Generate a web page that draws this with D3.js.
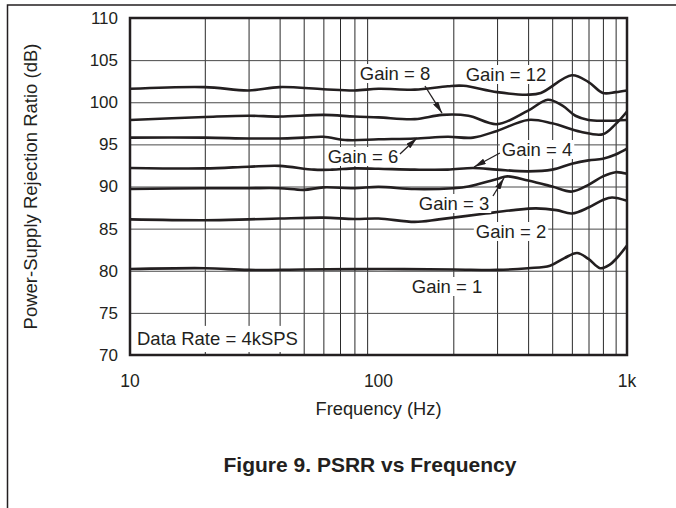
<!DOCTYPE html>
<html>
<head>
<meta charset="utf-8">
<script src="https://cdn.jsdelivr.net/npm/d3@7"></script>
<style>
  html, body { margin: 0; padding: 0; background: #fff; }
  svg text { font-family: "Liberation Sans", Arial, Helvetica, sans-serif; fill: #231f20; }
</style>
</head>
<body>
<svg id="chart" width="676" height="508"></svg>
<script>
// ---------- data ----------
const gain1  = [[10,80.2],[20,80.3],[30,80.1],[50,80.15],[100,80.2],[200,80.15],[300,80.1],[400,80.3],[490,80.6],[560,81.5],[630,82.1],[700,81.4],[780,80.3],[850,80.7],[910,81.5],[1000,83.0]];
const gain2  = [[10,86.1],[20,86.0],[30,86.1],[40,86.2],[60,86.3],[80,86.15],[100,86.2],[140,85.8],[175,86.1],[270,86.8],[350,87.2],[430,87.4],[520,87.2],[600,86.8],[700,87.5],[800,88.4],[870,88.7],[1000,88.3]];
const gain3  = [[10,89.7],[20,89.8],[30,89.8],[40,89.8],[50,89.6],[60,89.9],[80,89.8],[100,89.95],[140,89.7],[200,89.8],[230,90.0],[300,90.9],[330,91.2],[400,90.7],[500,90.0],[600,89.4],[700,90.2],[800,91.2],[900,91.7],[1000,91.5]];
const gain4  = [[10,92.2],[20,92.15],[30,92.35],[40,92.45],[55,92.0],[65,92.0],[80,92.15],[100,92.1],[140,92.0],[190,92.0],[240,92.2],[300,92.0],[400,91.8],[500,92.0],[600,92.7],[700,93.1],[800,93.3],[900,93.8],[1000,94.5]];
const gain6  = [[10,95.8],[20,95.8],[30,95.7],[40,95.7],[50,95.8],[60,95.9],[75,95.5],[100,95.6],[140,95.7],[190,95.9],[240,95.8],[300,96.6],[400,97.9],[500,97.5],[650,96.5],[800,96.2],[900,97.4],[1000,98.9]];
const gain8  = [[10,97.9],[20,98.25],[30,98.4],[40,98.3],[60,98.5],[80,98.3],[100,98.2],[140,98.0],[180,98.5],[230,98.4],[300,97.4],[400,99.0],[480,100.3],[550,99.6],[620,98.4],[700,97.9],[800,97.8],[1000,97.9]];
const gain12 = [[10,101.6],[20,101.8],[30,101.4],[40,101.8],[60,101.55],[80,101.4],[100,101.6],[140,101.5],[190,101.9],[220,101.95],[300,101.2],[400,100.9],[450,101.1],[600,103.2],[700,102.4],[800,101.1],[900,101.2],[1000,101.4]];
const seriesList = [gain1, gain2, gain3, gain4, gain6, gain8, gain12];

const yTicks = [70, 75, 80, 85, 90, 95, 100, 105, 110];
const xMajorTicks = [10, 100, 1000];
const xTickLabels = ["10", "100", "1k"];
const xMinorTicks = [20,30,40,50,60,70,80,90,200,300,400,500,600,700,800,900];

// annotations: text, anchor point (freq, dB), optional arrow from -> to (freq, dB)
const labels = [
  { text: "Gain = 8",  at: [116.5, 102.64], arrow: [[153.8, 101.93], [180.1, 98.72]] },
  { text: "Gain = 12", at: [326, 102.52] },
  { text: "Gain = 6",  at: [86.6, 92.79],  arrow: [[122, 93.86], [142.9, 95.76]] },
  { text: "Gain = 4",  at: [434.5, 93.62], arrow: [[308, 93.98], [242.3, 92.31]] },
  { text: "Gain = 3",  at: [201.3, 87.21], arrow: [[288.9, 88.87], [320, 91.01]] },
  { text: "Gain = 2",  at: [341.5, 83.89] },
  { text: "Gain = 1",  at: [188.7, 77.36] }
];

// ---------- layout ----------
const svg = d3.select("#chart");
const L = 130, R = 627, T = 18, B = 355;
const x = d3.scaleLog().domain([10, 1000]).range([L, R]);
const y = d3.scaleLinear().domain([70, 110]).range([B, T]);

// page frame
svg.append("path").attr("d", `M7.5,508 V5 H676`).attr("fill", "none")
  .attr("stroke", "#231f20").attr("stroke-width", 1.5);

// grid
const grid = svg.append("g");
grid.append("g").attr("transform", `translate(0,${B})`)
  .call(d3.axisBottom(x).tickValues(xMinorTicks).tickSize(-(B - T)).tickFormat(""))
  .call(g => g.select(".domain").remove())
  .call(g => g.selectAll("line").attr("stroke", "#2a2a2a").attr("stroke-width", 1));
grid.append("g").attr("transform", `translate(${L},0)`)
  .call(d3.axisLeft(y).tickValues(yTicks.slice(1, -1)).tickSize(-(R - L)).tickFormat(""))
  .call(g => g.select(".domain").remove())
  .call(g => g.selectAll("line").attr("stroke", "#4a4a4a").attr("stroke-width", 1));

// curves
const line = d3.line().x(d => x(d[0])).y(d => y(d[1])).curve(d3.curveCatmullRom.alpha(0.5));
svg.append("g").selectAll("path").data(seriesList).join("path")
  .attr("d", line).attr("fill", "none").attr("stroke", "#231f20")
  .attr("stroke-width", 2.6).attr("stroke-linejoin", "round");

// annotation labels with white background
const ann = svg.append("g");
labels.forEach(l => {
  const g = ann.append("g");
  const t = g.append("text").attr("x", x(l.at[0])).attr("y", y(l.at[1]))
    .attr("text-anchor", "middle").attr("font-size", 18.5).text(l.text);
  const bb = t.node().getBBox();
  g.insert("rect", "text").attr("x", bb.x - 2).attr("y", bb.y + 1)
    .attr("width", bb.width + 4).attr("height", bb.height - 2).attr("fill", "#fff");
});

// arrows
const defs = svg.append("defs");
defs.append("marker").attr("id", "ah").attr("viewBox", "0 0 12 6")
  .attr("refX", 12).attr("refY", 3).attr("markerWidth", 12).attr("markerHeight", 6)
  .attr("markerUnits", "userSpaceOnUse").attr("orient", "auto")
  .append("path").attr("d", "M0,0 L12,3 L0,6 Z").attr("fill", "#231f20");
ann.selectAll("line.arrow").data(labels.filter(l => l.arrow)).join("line")
  .attr("class", "arrow")
  .attr("x1", d => x(d.arrow[0][0])).attr("y1", d => y(d.arrow[0][1]))
  .attr("x2", d => x(d.arrow[1][0])).attr("y2", d => y(d.arrow[1][1]))
  .attr("stroke", "#231f20").attr("stroke-width", 1.3).attr("marker-end", "url(#ah)");

// data rate box
const dr = svg.append("g");
const drt = dr.append("text").attr("x", x(10) + 7).attr("y", y(71.2))
  .attr("font-size", 18.5).text("Data Rate = 4kSPS");
const dbb = drt.node().getBBox();
dr.insert("rect", "text").attr("x", L).attr("y", dbb.y - 2)
  .attr("width", dbb.x + dbb.width + 3 - L).attr("height", B - 3 - (dbb.y - 2)).attr("fill", "#fff");

// plot border
svg.append("rect").attr("x", L).attr("y", T).attr("width", R - L).attr("height", B - T)
  .attr("fill", "none").attr("stroke", "#231f20").attr("stroke-width", 2.5);

// y tick labels
svg.append("g").attr("transform", `translate(${L - 12},0)`)
  .call(d3.axisLeft(y).tickValues(yTicks).tickSize(0).tickPadding(0))
  .call(g => g.select(".domain").remove())
  .call(g => g.selectAll("text").attr("font-size", 17).attr("font-family", null).attr("fill", "#231f20"));

// x tick labels
svg.append("g").selectAll("text").data(xMajorTicks).join("text")
  .attr("x", d => x(d)).attr("y", 387).attr("text-anchor", "middle")
  .attr("font-size", 17.5).text((d, i) => xTickLabels[i]);

// axis titles
svg.append("text").attr("x", (L + R) / 2).attr("y", 415).attr("text-anchor", "middle")
  .attr("font-size", 18.3).text("Frequency (Hz)");
svg.append("text").attr("transform", `translate(37,${(T + B) / 2}) rotate(-90)`)
  .attr("text-anchor", "middle").attr("font-size", 18.5).text("Power-Supply Rejection Ratio (dB)");

// figure caption
svg.append("text").attr("x", 370).attr("y", 472).attr("text-anchor", "middle")
  .attr("font-size", 21).attr("font-weight", "bold").text("Figure 9. PSRR vs Frequency");
</script>
</body>
</html>
